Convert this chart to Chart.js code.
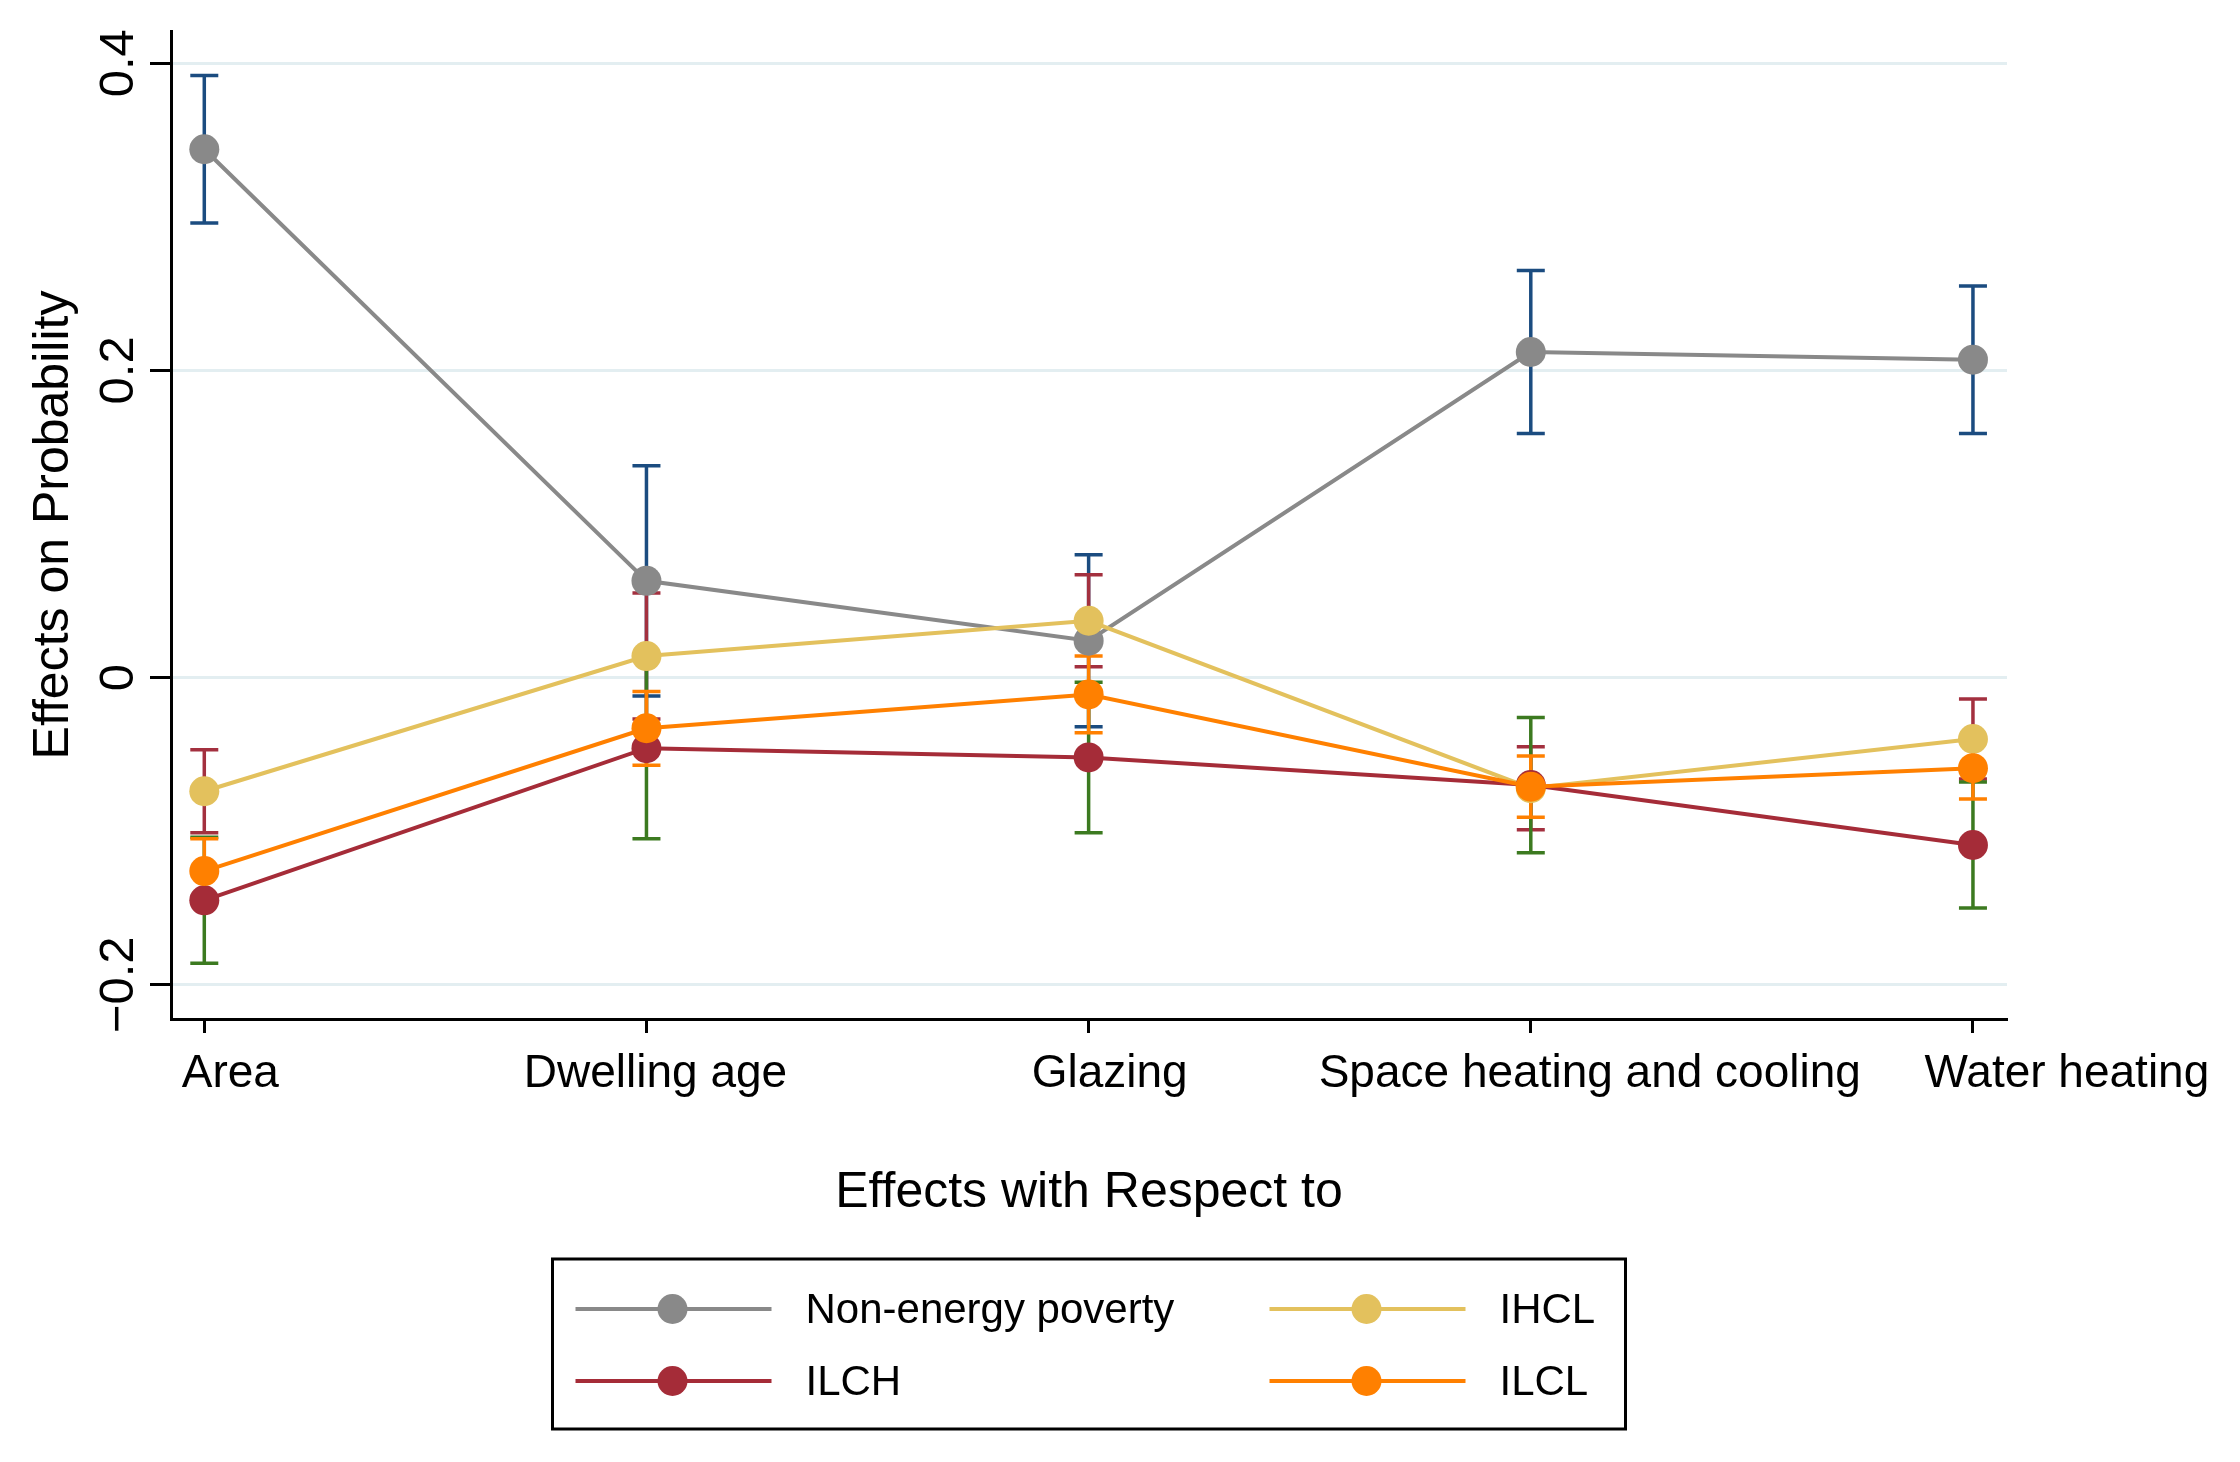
<!DOCTYPE html>
<html>
<head>
<meta charset="utf-8">
<title>Effects on Probability</title>
<script src="https://cdn.jsdelivr.net/npm/chart.js@4.4.1/dist/chart.umd.min.js"></script>
<style>
    html, body { margin: 0; padding: 0; background: #fff; }
    #effectsChart { display: block; width: 2240px; height: 1462px; }
</style>
</head>
<body>
<canvas id="effectsChart" width="2240" height="1462"></canvas>
<script>
// data
const categories = ['Area', 'Dwelling age', 'Glazing', 'Space heating and cooling', 'Water heating'];
const yTickValues = [-0.2, 0, 0.2, 0.4];
const yTickLabels = ['\u22120.2', '0', '0.2', '0.4'];

const seriesNames = ['Non-energy poverty', 'IHCL', 'ILCH', 'ILCL'];

// point estimates
const nonEnergyPoverty = [0.344, 0.063, 0.024, 0.212, 0.207];
const ihcl = [-0.074, 0.014, 0.037, -0.072, -0.040];
const ilch = [-0.145, -0.046, -0.052, -0.070, -0.109];
const ilcl = [-0.126, -0.033, -0.011, -0.071, -0.059];

// half width of the confidence intervals
const nonEnergyPovertyCI = [0.048, 0.075, 0.056, 0.053, 0.048];
const ihclCI = [0.027, 0.041, 0.030, 0.027, 0.026];
const ilchCI = [0.041, 0.059, 0.049, 0.044, 0.041];
const ilclCI = [0.021, 0.024, 0.025, 0.020, 0.020];

// look
const FONT = '"Liberation Sans", Arial, Helvetica, sans-serif';
const lineColors = ['#898989', '#E3C15D', '#A52C38', '#FF8000'];
const ciColors = ['#1B4C80', '#A3303F', '#3C7A20', '#FF8000'];
const xLabelNudge = [26, 9, 21, 59, 94]; // labels sit a bit right of the ticks in the original

document.addEventListener("DOMContentLoaded", function () {

    const canvas = document.getElementById("effectsChart");
    if (!canvas) {
        console.log("effectsChart NOT found");
        return;
    }

    const values = [nonEnergyPoverty, ihcl, ilch, ilcl];
    const cis = [nonEnergyPovertyCI, ihclCI, ilchCI, ilclCI];

    const datasets = seriesNames.map(function (name, k) {
        return {
            label: name,
            data: values[k].map(function (v, i) { return { x: i, y: v }; }),
            ci: cis[k],
            ciColor: ciColors[k],
            borderColor: lineColors[k],
            backgroundColor: lineColors[k],
            pointBackgroundColor: lineColors[k],
            pointBorderWidth: 0,
            pointRadius: 15,
            borderWidth: 4,
            tension: 0,
            clip: false,
            order: seriesNames.length - k   // later series on top, like Stata
        };
    });

    // CI caps, drawn under the lines
    const errorBars = {
        id: 'errorBars',
        beforeDatasetsDraw(chart) {
            const ctx = chart.ctx;
            const xs = chart.scales.x, ys = chart.scales.y;
            ctx.save();
            ctx.lineWidth = 3.5;
            chart.data.datasets.forEach(function (ds) {
                ctx.strokeStyle = ds.ciColor;
                ds.ci.forEach(function (half, i) {
                    const v = ds.data[i].y;
                    const x = xs.getPixelForValue(i);
                    const y1 = ys.getPixelForValue(v + half);
                    const y2 = ys.getPixelForValue(v - half);
                    ctx.beginPath();
                    ctx.moveTo(x, y1); ctx.lineTo(x, y2);
                    ctx.moveTo(x - 14, y1); ctx.lineTo(x + 14, y1);
                    ctx.moveTo(x - 14, y2); ctx.lineTo(x + 14, y2);
                    ctx.stroke();
                });
            });
            ctx.restore();
        }
    };

    // tick labels, titles and the boxed legend
    const textLayer = {
        id: 'textLayer',
        afterDraw(chart) {
            const ctx = chart.ctx;
            const a = chart.chartArea;
            const xs = chart.scales.x, ys = chart.scales.y;
            const midX = (a.left + a.right) / 2;
            ctx.save();
            ctx.fillStyle = '#000';
            ctx.textAlign = 'center';
            ctx.textBaseline = 'alphabetic';

            // y tick labels, rotated
            ctx.font = '49px ' + FONT;
            yTickValues.forEach(function (v, i) {
                ctx.save();
                ctx.translate(a.left - 38, ys.getPixelForValue(v));
                ctx.rotate(-Math.PI / 2);
                ctx.fillText(yTickLabels[i], 0, 0);
                ctx.restore();
            });

            // y title
            ctx.font = '50px ' + FONT;
            ctx.save();
            ctx.translate(68, (a.top + a.bottom) / 2);
            ctx.rotate(-Math.PI / 2);
            ctx.fillText('Effects on Probability', 0, 0);
            ctx.restore();

            // x tick labels
            ctx.font = '46px ' + FONT;
            categories.forEach(function (c, i) {
                ctx.fillText(c, xs.getPixelForValue(i) + xLabelNudge[i], a.bottom + 68);
            });

            // x title
            ctx.font = '50px ' + FONT;
            ctx.fillText('Effects with Respect to', midX, a.bottom + 188);

            // legend
            const boxW = 1073, boxH = 170;
            const boxL = midX - boxW / 2, boxT = a.bottom + 240;
            ctx.lineWidth = 3;
            ctx.strokeStyle = '#000';
            ctx.strokeRect(boxL, boxT, boxW, boxH);

            ctx.font = '42px ' + FONT;
            ctx.textAlign = 'left';
            ctx.textBaseline = 'middle';
            chart.data.datasets.forEach(function (ds, k) {
                const col = k % 2, row = Math.floor(k / 2);
                const ox = boxL + 23 + col * 694;
                const oy = boxT + 50 + row * 72;
                ctx.strokeStyle = ds.borderColor;
                ctx.lineWidth = 4;
                ctx.beginPath();
                ctx.moveTo(ox, oy); ctx.lineTo(ox + 196, oy);
                ctx.stroke();
                ctx.fillStyle = ds.pointBackgroundColor;
                ctx.beginPath();
                ctx.arc(ox + 97, oy, 15, 0, Math.PI * 2);
                ctx.fill();
                ctx.fillStyle = '#000';
                ctx.fillText(ds.label, ox + 230, oy + 2);
            });

            ctx.restore();
        }
    };

    new Chart(canvas.getContext("2d"), {
        type: 'line',
        data: { datasets: datasets },
        options: {
            responsive: false,
            animation: false,
            devicePixelRatio: 1,
            layout: { padding: { left: 150, right: 233, top: 31, bottom: 429 } },
            plugins: {
                legend: { display: false },
                tooltip: { enabled: false }
            },
            scales: {
                x: {
                    type: 'linear',
                    min: -0.0753,
                    max: 4.077,
                    afterBuildTicks: function (s) {
                        s.ticks = categories.map(function (c, i) { return { value: i }; });
                    },
                    afterFit: function (s) { s.height = 14; },
                    ticks: { display: false },
                    grid: {
                        display: true,
                        drawOnChartArea: false,
                        drawTicks: true,
                        tickLength: 14,
                        tickColor: '#000',
                        tickWidth: 3
                    },
                    border: { display: true, color: '#000', width: 3 }
                },
                y: {
                    type: 'linear',
                    min: -0.2223,
                    max: 0.421,
                    afterBuildTicks: function (s) {
                        s.ticks = yTickValues.map(function (v) { return { value: v }; });
                    },
                    afterFit: function (s) { s.width = 21; },
                    ticks: { display: false },
                    grid: {
                        display: true,
                        drawOnChartArea: true,
                        color: '#E3EEF1',
                        lineWidth: 3,
                        drawTicks: true,
                        tickLength: 21,
                        tickColor: '#000',
                        tickWidth: 3
                    },
                    border: { display: true, color: '#000', width: 3 }
                }
            }
        },
        plugins: [errorBars, textLayer]
    });
});
</script>
</body>
</html>
